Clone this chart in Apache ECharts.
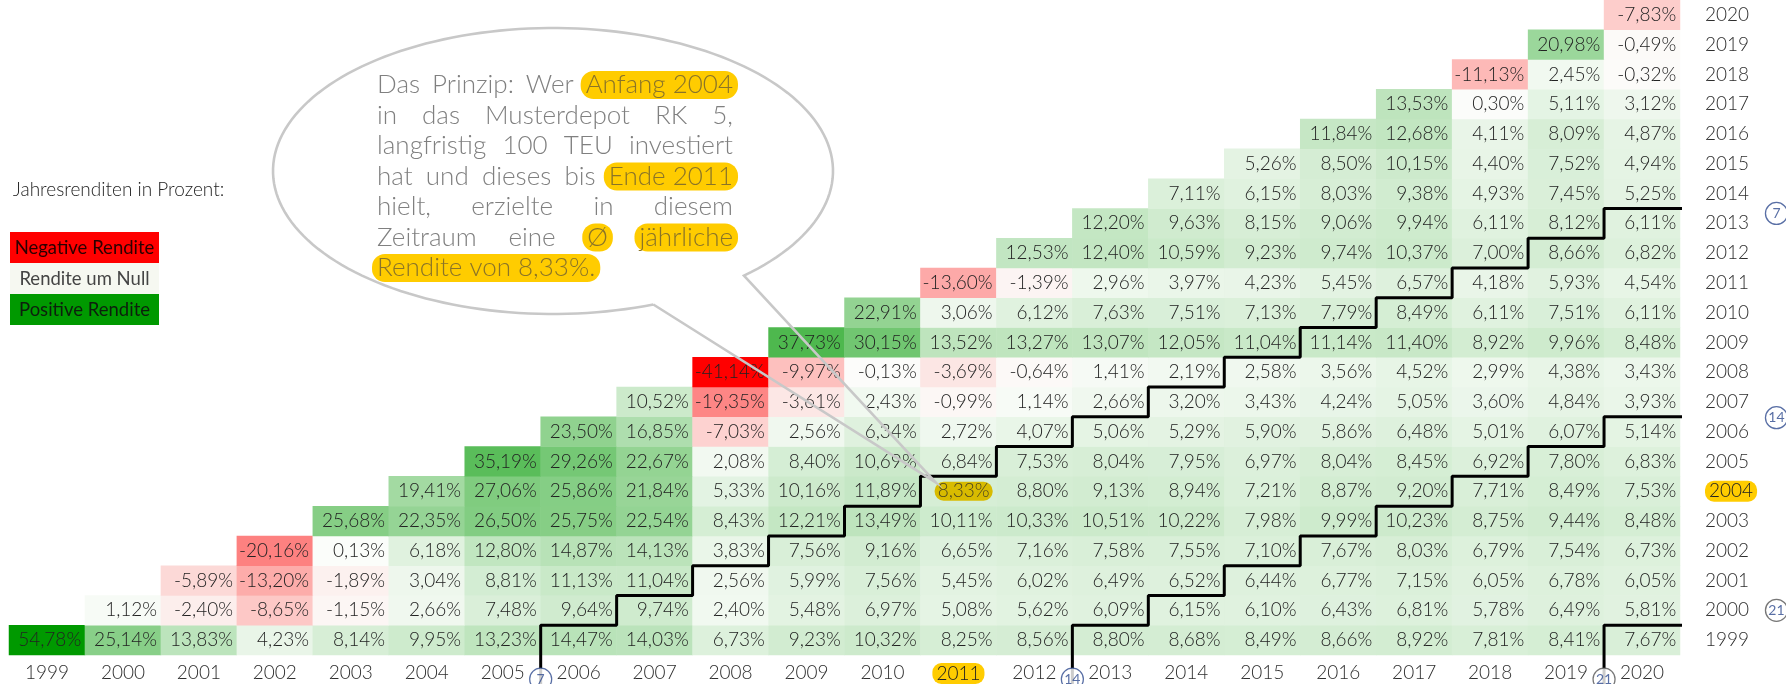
<!DOCTYPE html>
<html><head><meta charset="utf-8">
<script src="https://cdn.jsdelivr.net/npm/echarts@6/dist/echarts.min.js"></script>
<style>html,body{margin:0;padding:0;background:#fff}#c{width:1786px;height:684px}</style>
</head><body><div id="c"></div>
<script>
// ---- DATA ----
const years = ['1999','2000','2001','2002','2003','2004','2005','2006','2007','2008','2009','2010','2011','2012','2013','2014','2015','2016','2017','2018','2019','2020'];
// average annual return (%) for an investment from start of row year to end of column year
const from1999 = [54.78,25.14,13.83,4.23,8.14,9.95,13.23,14.47,14.03,6.73,9.23,10.32,8.25,8.56,8.80,8.68,8.49,8.66,8.92,7.81,8.41,7.67];
const from2000 = [1.12,-2.40,-8.65,-1.15,2.66,7.48,9.64,9.74,2.40,5.48,6.97,5.08,5.62,6.09,6.15,6.10,6.43,6.81,5.78,6.49,5.81];
const from2001 = [-5.89,-13.20,-1.89,3.04,8.81,11.13,11.04,2.56,5.99,7.56,5.45,6.02,6.49,6.52,6.44,6.77,7.15,6.05,6.78,6.05];
const from2002 = [-20.16,0.13,6.18,12.80,14.87,14.13,3.83,7.56,9.16,6.65,7.16,7.58,7.55,7.10,7.67,8.03,6.79,7.54,6.73];
const from2003 = [25.68,22.35,26.50,25.75,22.54,8.43,12.21,13.49,10.11,10.33,10.51,10.22,7.98,9.99,10.23,8.75,9.44,8.48];
const from2004 = [19.41,27.06,25.86,21.84,5.33,10.16,11.89,8.33,8.80,9.13,8.94,7.21,8.87,9.20,7.71,8.49,7.53];
const from2005 = [35.19,29.26,22.67,2.08,8.40,10.69,6.84,7.53,8.04,7.95,6.97,8.04,8.45,6.92,7.80,6.83];
const from2006 = [23.50,16.85,-7.03,2.56,6.34,2.72,4.07,5.06,5.29,5.90,5.86,6.48,5.01,6.07,5.14];
const from2007 = [10.52,-19.35,-3.61,2.43,-0.99,1.14,2.66,3.20,3.43,4.24,5.05,3.60,4.84,3.93];
const from2008 = [-41.14,-9.97,-0.13,-3.69,-0.64,1.41,2.19,2.58,3.56,4.52,2.99,4.38,3.43];
const from2009 = [37.73,30.15,13.52,13.27,13.07,12.05,11.04,11.14,11.40,8.92,9.96,8.48];
const from2010 = [22.91,3.06,6.12,7.63,7.51,7.13,7.79,8.49,6.11,7.51,6.11];
const from2011 = [-13.60,-1.39,2.96,3.97,4.23,5.45,6.57,4.18,5.93,4.54];
const from2012 = [12.53,12.40,10.59,9.23,9.74,10.37,7.00,8.66,6.82];
const from2013 = [12.20,9.63,8.15,9.06,9.94,6.11,8.12,6.11];
const from2014 = [7.11,6.15,8.03,9.38,4.93,7.45,5.25];
const from2015 = [5.26,8.50,10.15,4.40,7.52,4.94];
const from2016 = [11.84,12.68,4.11,8.09,4.87];
const from2017 = [13.53,0.30,5.11,3.12];
const from2018 = [-11.13,2.45,-0.32];
const from2019 = [20.98,-0.49];
const from2020 = [-7.83];
const rowsByStart = [from1999,from2000,from2001,from2002,from2003,from2004,from2005,from2006,from2007,from2008,from2009,from2010,from2011,from2012,from2013,from2014,from2015,from2016,from2017,from2018,from2019,from2020];
const holdingPeriods = [7, 14, 21];
const highlightStart = '2004', highlightEnd = '2011';
const legendTitle = 'Jahresrenditen in Prozent:';
const legendItems = ['Negative Rendite', 'Rendite um Null', 'Positive Rendite'];
const bubbleLines = [
  'Das Prinzip: Wer [Anfang 2004]',
  'in das Musterdepot RK 5,',
  'langfristig 100 TEU investiert',
  'hat und dieses bis [Ende 2011]',
  'hielt, erzielte in diesem',
  'Zeitraum eine [Ø] [jährliche]',
  '[Rendite von 8,33%.]'
];

// ---- STYLE ----
const FONT = 'Lato';
const FW = 300;
const RED = [255,0,0], MID = [252,253,251], GREEN = [0,153,0];
const allVals = rowsByStart.flat();
const minV = Math.min(...allVals), maxV = Math.max(...allVals);
function mix(a, b, t){ return 'rgb(' + a.map((x,i)=>Math.round(x + (b[i]-x)*t)).join(',') + ')'; }
function cellColor(v){ return v < 0 ? mix(MID, RED, v/minV) : mix(MID, GREEN, v/maxV); }
const fmt = v => v.toFixed(2).replace('.', ',') + '%';

const heatData = [];
rowsByStart.forEach((vals, yi) => vals.forEach((v, k) => {
  const xi = yi + k;
  const item = { value: [xi, yi, v], itemStyle: { color: cellColor(v) } };
  if (years[yi] === highlightStart && years[xi] === highlightEnd) {
    item.label = { backgroundColor: '#d8bb00', borderRadius: 9, padding: [0, 3], color: '#4a4420' };
  }
  heatData.push(item);
}));

const N = years.length;
function stair(P){
  const top = N - 1 - P;
  const pts = [[22.54, top + 0.5]];
  for (let yi = top; yi >= 0; yi--) {
    const bx = yi + P - 0.5;
    pts.push([bx, yi + 0.5]);
    pts.push([bx, yi - 0.5]);
  }
  pts.push([P - 0.5, -2.3]);
  return pts;
}
const circleOffset = {7: -0.17, 14: -0.03, 21: 0.5};
const circleData = [];
holdingPeriods.forEach(P => {
  const top = N - 1 - P;
  const border = P === 21 ? '#555' : '#2f4b8f';
  circleData.push({ value: [22.77, top + 0.5 + circleOffset[P], P], itemStyle: { borderColor: border } });
  circleData.push({ value: [P - 0.5, -1.31, P], itemStyle: { borderColor: border } });
});

const axisLabelBase = { fontFamily: FONT, fontWeight: FW, fontSize: 19, color: '#2e2e2e' };
const hlRich = { hl: { backgroundColor: '#FFCC00', borderRadius: 9, padding: [1, 4], fontFamily: FONT, fontWeight: FW, fontSize: 19, color: '#222' } };

const chart = echarts.init(document.getElementById('c'));
const gridRect = { left: 9, top: 0, right: 106, bottom: 29 };
chart.setOption({
  animation: false,
  grid: [Object.assign({}, gridRect), Object.assign({}, gridRect)],
  xAxis: [
    { type: 'category', data: years, gridIndex: 0, position: 'bottom',
      axisLine: { show: false }, axisTick: { show: false }, splitLine: { show: false },
      axisLabel: Object.assign({ margin: 8, interval: 0, rich: hlRich,
        formatter: v => v === highlightEnd ? '{hl|' + v + '}' : v }, axisLabelBase) },
    { type: 'value', gridIndex: 1, min: -0.5, max: 21.5, show: false }
  ],
  yAxis: [
    { type: 'category', data: years, gridIndex: 0, position: 'right',
      axisLine: { show: false }, axisTick: { show: false }, splitLine: { show: false },
      axisLabel: Object.assign({ margin: 25, interval: 0, align: 'left', rich: hlRich,
        formatter: v => v === highlightStart ? '{hl|' + v + '}' : v }, axisLabelBase) },
    { type: 'value', gridIndex: 1, min: -0.5, max: 21.5, show: false }
  ],
  series: [
    { type: 'heatmap', xAxisIndex: 0, yAxisIndex: 0, data: heatData,
      label: { show: true, position: 'insideRight', distance: 4, fontFamily: FONT, fontWeight: FW, fontSize: 19, color: '#222',
        formatter: p => fmt(p.value[2]) },
      emphasis: { disabled: true } },
    ...holdingPeriods.map(P => ({
      type: 'line', xAxisIndex: 1, yAxisIndex: 1, data: stair(P), symbol: 'none', clip: false, z: 5,
      lineStyle: { color: '#000', width: 3 }, emphasis: { disabled: true }
    })),
    { type: 'scatter', xAxisIndex: 1, yAxisIndex: 1, data: circleData, clip: false, z: 6,
      symbol: 'circle', symbolSize: 22,
      itemStyle: { color: '#fff', borderWidth: 1.3 },
      label: { show: true, position: 'inside', formatter: p => String(p.value[2]), fontFamily: FONT, fontSize: 14, color: '#2f4b8f' },
      emphasis: { disabled: true } }
  ]
});

// ---- annotations (legend + speech bubble) ----
const g = [];
g.push({ type: 'text', z: 100, style: { text: legendTitle, x: 13, y: 190, fontFamily: FONT, fontWeight: FW, fontSize: 19, fill: '#222', verticalAlign: 'middle' } });
const legColors = ['#FF0000', '#F6F8F1', '#009900'];
const legText = ['#2a0000', '#444', '#0d1f0d'];
legendItems.forEach((t, i) => {
  g.push({ type: 'rect', z: 100, shape: { x: 10, y: 232 + i * 31, width: 149, height: 31 }, style: { fill: legColors[i] } });
  g.push({ type: 'text', z: 101, style: { text: t, x: 84.5, y: 248 + i * 31, align: 'center', verticalAlign: 'middle', fontFamily: FONT, fontWeight: 400, fontSize: 18.5, fill: legText[i] } });
});

// speech bubble outline
const cx = 553, cy = 171, rx = 280, ry = 143;
const tip = chart.convertToPixel({ xAxisIndex: 1, yAxisIndex: 1 }, [years.indexOf(highlightEnd) - 0.3, years.indexOf(highlightStart) + 0.3]);
const pts = [];
for (let a = 69; a <= 407; a += 2) {
  const r = a * Math.PI / 180;
  pts.push([cx + rx * Math.cos(r), cy + ry * Math.sin(r)]);
}
pts.push(tip);
pts.push(pts[0]);
g.push({ type: 'polyline', z: 120, shape: { points: pts }, style: { stroke: '#c8c8c8', lineWidth: 2.6, fill: null } });

// justified bubble text
const ctx = document.createElement('canvas').getContext('2d');
ctx.font = FW + ' 26px ' + FONT;
const LX = 377, RX = 733, LY0 = 85, LH = 30.5;
bubbleLines.forEach((line, li) => {
  const toks = line.match(/\[[^\]]+\]|[^\s\[\]]+/g).map(t => t[0] === '[' ? { t: t.slice(1, -1), hl: true } : { t, hl: false });
  toks.forEach(o => o.w = ctx.measureText(o.t).width);
  const total = toks.reduce((s, o) => s + o.w, 0);
  const last = li === bubbleLines.length - 1;
  const gap = (last || toks.length < 2) ? ctx.measureText(' ').width : (RX - LX - total) / (toks.length - 1);
  let x = LX;
  const y = LY0 + li * LH;
  toks.forEach(o => {
    const style = { text: o.t, x: x, y: y, verticalAlign: 'middle', fontFamily: FONT, fontWeight: FW, fontSize: 26, fill: '#808080' };
    if (o.hl) {
      Object.assign(style, { fill: '#8a7428', backgroundColor: '#FFCC00', borderRadius: 13, padding: [1, 5] });
      style.x = x - 5;
    }
    g.push({ type: 'text', z: 121, style });
    x += o.w + gap;
  });
});
chart.setOption({ graphic: g });
</script>
</body></html>
